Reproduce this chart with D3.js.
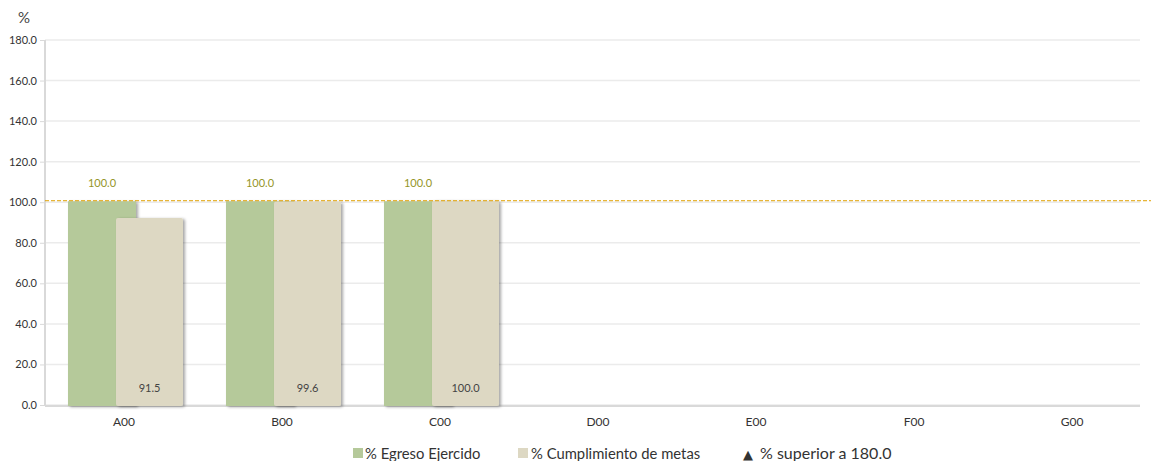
<!DOCTYPE html>
<html><head><meta charset="utf-8">
<script src="https://cdn.jsdelivr.net/npm/d3@7"></script>
<style>body{margin:0;background:#fff;font-family:Lato,"Open Sans",sans-serif;}</style>
</head><body><svg id="c" width="1153" height="461"></svg>
<script>
const categories = ["A00","B00","C00","D00","E00","F00","G00"];
const egreso = [100.0, 100.0, 100.0, null, null, null, null];
const metas = [91.5, 99.6, 100.0, null, null, null, null];
const yTicks = [0,20,40,60,80,100,120,140,160,180];
const refValue = 100;
const legendLabels = ["% Egreso Ejercido","% Cumplimiento de metas","% superior a 180.0"];

const svg = d3.select("#c");
const defs = svg.append("defs");
const f = defs.append("filter").attr("id","sh").attr("x","-20%").attr("y","-20%").attr("width","150%").attr("height","150%");
f.append("feDropShadow").attr("dx",2).attr("dy",1).attr("stdDeviation",1.5).attr("flood-color","#000").attr("flood-opacity",0.35);

const x = d3.scaleBand().domain(categories).range([45,1151]).padding(0);
const y = d3.scaleLinear().domain([0,180]).range([405,40]);

// grid
svg.append("g").selectAll("line").data(yTicks).join("line")
  .attr("x1",45).attr("x2",1140).attr("y1",d=>y(d)).attr("y2",d=>y(d))
  .attr("stroke","#ebebeb").attr("stroke-width",1.5);

// y axis
const ya = svg.append("g").attr("transform","translate(45,0)")
  .call(d3.axisLeft(y).tickValues(yTicks).tickFormat(d3.format(".1f")).tickSize(5).tickPadding(3));
ya.select(".domain").attr("stroke","#d9d9d9").attr("stroke-width",2).attr("d","M0,40V406");
ya.selectAll(".tick line").attr("stroke","#d9d9d9");
ya.selectAll("text").attr("fill","#333").style("font-family","Lato").style("font-size","11px");

// x axis line
svg.append("line").attr("x1",45).attr("x2",1140).attr("y1",406).attr("y2",406).attr("stroke","#d9d9d9").attr("stroke-width",2);
const xa = svg.append("g").attr("transform","translate(0,406)")
  .call(d3.axisBottom(x).tickSize(0).tickPadding(11));
xa.select(".domain").remove();
xa.selectAll("text").attr("fill","#333").style("font-family","Lato").style("font-size","12px");

svg.append("text").attr("x",24).attr("y",23).attr("text-anchor","middle").attr("fill","#444")
  .style("font-family","Lato").style("font-size","15px").text("%");

const bw = 68;
const idx = categories.map((c,i)=>i).filter(i=>egreso[i]!=null);
// green bars
svg.append("g").selectAll("rect").data(idx).join("rect")
  .attr("x",i=>x(categories[i])+23).attr("width",bw)
  .attr("y",i=>y(egreso[i])-1).attr("height",i=>y(0)-y(egreso[i])+2)
  .attr("fill","#b5c99a").attr("filter","url(#sh)");
// beige bars
svg.append("g").selectAll("rect").data(idx).join("rect")
  .attr("x",i=>x(categories[i])+71).attr("width",bw-1)
  .attr("y",i=>y(metas[i])-1.5).attr("height",i=>y(0)-y(metas[i])+2.5)
  .attr("rx",2).attr("fill","#ddd8c3").attr("filter","url(#sh)");

// reference line
svg.append("line").attr("x1",45).attr("x2",1151).attr("y1",y(refValue)-1.5).attr("y2",y(refValue)-1.5)
  .attr("stroke","#e0a100").attr("stroke-width",1).attr("stroke-dasharray","4,2");

// labels
svg.append("g").selectAll("text").data(idx).join("text")
  .attr("x",i=>x(categories[i])+23+bw/2).attr("y",i=>y(egreso[i])-15)
  .attr("text-anchor","middle").attr("fill","#959528").style("font-family","Lato").style("font-size","11px")
  .text(i=>d3.format(".1f")(egreso[i]));
svg.append("g").selectAll("text").data(idx).join("text")
  .attr("x",i=>x(categories[i])+71+(bw-1)/2).attr("y",392)
  .attr("text-anchor","middle").attr("fill","#444").style("font-family","Lato").style("font-size","11px")
  .text(i=>d3.format(".1f")(metas[i]));

// legend
const lg = svg.append("g").style("font-family","Lato").style("font-size","14.8px");
lg.append("rect").attr("x",353).attr("y",448).attr("width",10).attr("height",10).attr("fill","#b5c99a");
lg.append("text").attr("x",365).attr("y",459).attr("fill","#333").text(legendLabels[0]);
lg.append("rect").attr("x",518).attr("y",448).attr("width",10).attr("height",10).attr("fill","#ddd8c3");
lg.append("text").attr("x",531).attr("y",459).attr("fill","#333").text(legendLabels[1]);
lg.append("text").attr("x",743).attr("y",459).attr("fill","#333").style("font-family","DejaVu Sans").style("font-size","13px").text("▲");
lg.append("text").attr("x",760).attr("y",459).attr("fill","#333").style("font-size","16px").text(legendLabels[2]);
</script></body></html>
